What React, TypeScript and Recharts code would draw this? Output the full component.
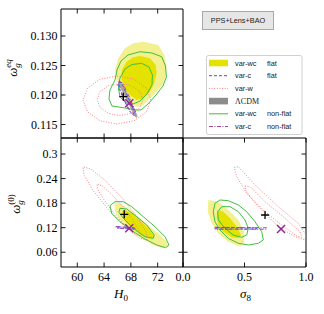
import React from 'react';
import { ScatterChart, Scatter, XAxis, YAxis } from 'recharts';

type P = [number, number];

// ---------------- axes ----------------
const H0_TICKS = [60, 64, 68, 72];
const H0_LABELS = ['60', '64', '68', '72'];
const WEQ_TICKS = [0.115, 0.12, 0.125, 0.13];
const WEQ_LABELS = ['0.115', '0.120', '0.125', '0.130'];
const W0_TICKS = [0.06, 0.12, 0.18, 0.24, 0.3];
const W0_LABELS = ['0.06', '0.12', '0.18', '0.24', '0.3'];
const S8_TICKS = [0, 0.5, 1];
const S8_LABELS = ['0.0', '0.5', '1.0'];
const H0_DOMAIN: P = [57.57, 75.78];
const WEQ_DOMAIN: P = [0.11271, 0.13458];
const W0_DOMAIN: P = [0.02395, 0.3392];
const S8_DOMAIN: P = [0, 1];

// ---------------- H0 vs omega_g^eq ----------------
const tlWcFlat95: P[] = [[69.85,0.12903],[72.09,0.12848],[72.99,0.12678],[73.34,0.1248],[73.19,0.1231],[72.69,0.1217],[71.85,0.12056],[70.85,0.11944],[69.85,0.11831],[68.91,0.11797],[67.57,0.11881],[66.63,0.12085],[65.88,0.12254],[65.63,0.12424],[66.12,0.12622],[67.12,0.12792],[68.36,0.12876]];
const tlWcFlat68: P[] = [[69.36,0.12661],[70.85,0.12622],[71.7,0.12509],[71.85,0.12368],[71.49,0.12198],[70.85,0.12056],[69.85,0.11944],[68.87,0.11915],[67.87,0.12],[67.12,0.12114],[66.63,0.12254],[66.63,0.12424],[67.37,0.12564],[68.36,0.12639]];
const tlWcNf95: P[] = [[69.36,0.12734],[71.15,0.12712],[72.6,0.12649],[73.16,0.12492],[73.31,0.12305],[72.79,0.12153],[71.75,0.12],[70.55,0.11847],[69.51,0.11746],[68.61,0.11746],[67.12,0.1178],[65.18,0.11814],[64.73,0.11932],[64.88,0.12085],[65.63,0.12254],[65.93,0.12424],[66.52,0.12576],[67.57,0.12678]];
const tlWcNf68: P[] = [[69.61,0.12537],[70.7,0.12475],[71.22,0.12339],[71.15,0.1217],[70.4,0.12017],[69.36,0.11898],[68.31,0.11847],[67.27,0.11864],[66.37,0.11966],[66.15,0.12119],[66.37,0.12288],[67.12,0.12441],[68.16,0.12517]];
const tlW95: P[] = [[71.0,0.11915],[70.31,0.12119],[68.46,0.12268],[65.93,0.12322],[63.39,0.12268],[61.54,0.12119],[60.85,0.11915],[61.54,0.11712],[63.39,0.11563],[65.93,0.11508],[68.46,0.11563],[70.31,0.11712]];
const tlW68: P[] = [[69.81,0.11924],[69.34,0.12059],[68.09,0.12159],[66.37,0.12195],[64.66,0.12159],[63.4,0.12059],[62.94,0.11924],[63.4,0.11788],[64.66,0.11688],[66.37,0.11653],[68.09,0.11688],[69.34,0.11788]];
const tlLcdm: P[] = [[66.3,0.1222],[66.72,0.12181],[67.96,0.11898],[69.0,0.11644],[68.84,0.1161],[68.43,0.11653],[67.48,0.1189],[66.22,0.1217]];
const tlCFlat: P[] = [[66.15,0.1222],[66.6,0.12212],[67.57,0.11966],[68.54,0.11712],[68.31,0.11669],[67.79,0.11729],[66.82,0.11949],[66.07,0.1217]];
const tlCNf: P[] = [[66.22,0.12237],[66.75,0.12203],[67.79,0.11966],[68.76,0.11695],[68.54,0.11644],[67.94,0.11712],[66.97,0.11932],[66.22,0.1217]];
const tlPlus: P[] = [[66.87,0.11971]];
const tlCross: P[] = [[67.76,0.11859]];

// ---------------- H0 vs omega_g^(0) ----------------
const blWcFlat95: P[] = [[65.52,0.18208],[66.37,0.17963],[67.61,0.16741],[69.1,0.14688],[70.85,0.12244],[72.34,0.10216],[73.34,0.08578],[73.58,0.07356],[72.84,0.06965],[71.34,0.07772],[69.61,0.09409],[67.87,0.11438],[66.37,0.13882],[65.63,0.1591]];
const blWcFlat68: P[] = [[66.87,0.16326],[68.12,0.15519],[69.61,0.13466],[70.85,0.11438],[71.49,0.098],[70.85,0.09238],[69.61,0.10045],[68.12,0.11853],[67.01,0.13882],[66.63,0.15519]];
const blWcNf95: P[] = [[64.88,0.17377],[65.63,0.18354],[66.87,0.18354],[68.12,0.17132],[69.85,0.14688],[71.6,0.12244],[73.09,0.098],[73.69,0.07772],[73.19,0.07112],[71.85,0.07772],[70.1,0.09238],[68.36,0.11022],[66.37,0.13466],[65.13,0.15519]];
const blWcNf68: P[] = [[66.37,0.16741],[67.37,0.1657],[68.87,0.14688],[70.36,0.1266],[71.49,0.10216],[71.34,0.09409],[70.1,0.098],[68.36,0.11853],[66.87,0.14297],[66.22,0.15764]];
const blW95: P[] = [[70.4,0.08994],[70.27,0.10925],[68.9,0.14713],[66.64,0.19357],[64.12,0.23633],[62.0,0.26371],[60.85,0.26835],[60.99,0.24905],[62.36,0.21116],[64.61,0.16473],[67.13,0.12196],[69.25,0.09458]];
const blW68: P[] = [[69.36,0.09971],[69.24,0.11255],[68.3,0.13882],[66.78,0.17181],[65.1,0.20236],[63.69,0.22253],[62.94,0.2268],[63.06,0.21397],[64.0,0.1877],[65.52,0.1547],[67.19,0.12415],[68.61,0.10399]];
const blCFlat: P[] = [[66.07,0.1222],[68.31,0.11976],[68.31,0.11682],[66.07,0.11927]];
const blCNf: P[] = [[65.78,0.12293],[68.61,0.11927],[68.61,0.1156],[65.78,0.11927]];
const blPlus: P[] = [[67.01,0.15275]];
const blCross: P[] = [[67.76,0.11853]];

// ---------------- sigma8 vs omega_g^(0) ----------------
const brWcFlat95: P[] = [[0.206,0.1877],[0.287,0.18354],[0.368,0.16326],[0.45,0.13882],[0.498,0.11022],[0.498,0.08187],[0.45,0.07527],[0.368,0.08578],[0.287,0.10631],[0.233,0.13075],[0.201,0.1591]];
const brWcFlat68: P[] = [[0.282,0.16326],[0.328,0.1591],[0.382,0.14297],[0.437,0.12244],[0.472,0.10216],[0.45,0.09409],[0.396,0.09654],[0.328,0.11022],[0.287,0.1266],[0.274,0.14688]];
const brWcNf95: P[] = [[0.301,0.1877],[0.368,0.18599],[0.45,0.17548],[0.518,0.1591],[0.585,0.13466],[0.64,0.11022],[0.653,0.08994],[0.612,0.08187],[0.531,0.07772],[0.45,0.08187],[0.368,0.09409],[0.301,0.11438],[0.26,0.13466],[0.246,0.1591],[0.26,0.17963]];
const brWcNf68: P[] = [[0.315,0.17132],[0.382,0.17132],[0.45,0.1591],[0.504,0.13882],[0.531,0.11853],[0.518,0.10216],[0.477,0.09654],[0.409,0.10216],[0.341,0.11853],[0.287,0.13882],[0.282,0.1591]];
const brW95: P[] = [[0.417,0.26762],[0.45,0.26908],[0.585,0.22436],[0.775,0.17132],[0.937,0.13075],[1.0,0.10216],[0.992,0.08994],[0.911,0.098],[0.775,0.12244],[0.64,0.16326],[0.518,0.20407],[0.437,0.24464]];
const brW68: P[] = [[0.504,0.22191],[0.545,0.2202],[0.667,0.18354],[0.815,0.14688],[0.951,0.11022],[0.965,0.09654],[0.924,0.09971],[0.802,0.1266],[0.667,0.1591],[0.545,0.19576],[0.51,0.21214]];
const brCFlat: P[] = [[0.274,0.12049],[0.599,0.11976],[0.599,0.11682],[0.274,0.11682]];
const brCNf: P[] = [[0.26,0.12098],[0.68,0.11976],[0.68,0.11633],[0.26,0.11633]];
const brPlus: P[] = [[0.667,0.15104]];
const brCross: P[] = [[0.797,0.11682]];

// ---------------- legend ----------------
const LEGEND_NAMES = ['var-wc', 'var-c', 'var-w', 'ΛCDM', 'var-wc', 'var-c'];
const LEGEND_QUAL = ['flat', 'flat', '', '', 'non-flat', 'non-flat'];
const TITLE = 'PPS+Lens+BAO';

// ---------------- styles ----------------
const PALE = '#f3f08f';
const BRIGHT = '#e3e200';
const GREEN = '#3fbf3f';
const RED = '#ff7f7f';
const BLUE = '#4b4bff';
const PURPLE = '#a345a3';
const GREY = '#8c8c8c';
const XMARK = '#8f2a8f';
const SERIF = "'Liberation Serif', 'DejaVu Serif', serif";
const SANS = "'Liberation Sans', Arial, sans-serif";
const TICK = 4.5;

const toXY = (a: P[]) => a.map(([x, y]) => ({ x, y }));
const noShape = () => <g />;
const plusShape = (p: any) => (
  <path d={`M${p.cx - 4},${p.cy}H${p.cx + 4}M${p.cx},${p.cy - 4}V${p.cy + 4}`} stroke="#000" strokeWidth={1.3} fill="none" />
);
const crossShape = (p: any) => (
  <path d={`M${p.cx - 4},${p.cy - 4}L${p.cx + 4},${p.cy + 4}M${p.cx - 4},${p.cy + 4}L${p.cx + 4},${p.cy - 4}`} stroke={XMARK} strokeWidth={1.5} fill="none" />
);

type Layer = { data: P[]; kind: 'fill' | 'line' | 'plus' | 'cross'; color?: string; dash?: string; width?: number; open?: boolean; opacity?: number };

const makeTick = (side: string, ticks: number[], labels: string[] | null) => (props: any) => {
  const { x, y, payload } = props;
  const i = ticks.findIndex((t) => Math.abs(t - payload.value) < 1e-9);
  const label = labels && i >= 0 ? labels[i] : null;
  let line;
  let text = null;
  if (side === 'bottom') {
    line = <line x1={x} x2={x} y1={y} y2={y - TICK} stroke="#000" strokeWidth={0.9} />;
    if (label) text = <text x={x} y={y + 14} textAnchor="middle" fontFamily={SERIF} fontSize={12} fill="#000">{label}</text>;
  } else if (side === 'top') {
    line = <line x1={x} x2={x} y1={y} y2={y + TICK} stroke="#000" strokeWidth={0.9} />;
  } else if (side === 'left') {
    line = <line x1={x} x2={x + TICK} y1={y} y2={y} stroke="#000" strokeWidth={0.9} />;
    if (label) text = <text x={x - 3.5} y={y + 4.2} textAnchor="end" fontFamily={SERIF} fontSize={12} fill="#000">{label}</text>;
  } else {
    line = <line x1={x} x2={x - TICK} y1={y} y2={y} stroke="#000" strokeWidth={0.9} />;
  }
  return <g>{line}{text}</g>;
};

const W = 324;
const H = 314;

function Panel(props: {
  rect: [number, number, number, number];
  xDomain: P; yDomain: P; xTicks: number[]; yTicks: number[];
  xLabels: string[] | null; yLabels: string[] | null; layers: Layer[];
}) {
  const { rect, xDomain, yDomain, xTicks, yTicks, xLabels, yLabels, layers } = props;
  const [x0, y0, x1, y1] = rect;
  const axisCommon = { type: 'number' as const, allowDataOverflow: true, tickSize: 0, tickMargin: 0, interval: 0 as const, axisLine: { stroke: '#000', strokeWidth: 1 }, tickLine: false };
  return (
    <div style={{ position: 'absolute', left: 0, top: 0 }}>
      <ScatterChart width={W} height={H} margin={{ left: x0 - 1, top: y0 - 1, right: W - x1 - 1, bottom: H - y1 - 1 }}>
        <XAxis xAxisId="b" orientation="bottom" dataKey="x" domain={xDomain} ticks={xTicks} height={1} tick={makeTick('bottom', xTicks, xLabels)} {...axisCommon} />
        <XAxis xAxisId="t" orientation="top" dataKey="x" domain={xDomain} ticks={xTicks} height={1} tick={makeTick('top', xTicks, null)} {...axisCommon} />
        <YAxis yAxisId="l" orientation="left" dataKey="y" domain={yDomain} ticks={yTicks} width={1} tick={makeTick('left', yTicks, yLabels)} {...axisCommon} />
        <YAxis yAxisId="r" orientation="right" dataKey="y" domain={yDomain} ticks={yTicks} width={1} tick={makeTick('right', yTicks, null)} {...axisCommon} />
        <Scatter xAxisId="t" yAxisId="r" data={toXY([[xDomain[0] + (xDomain[1] - xDomain[0]) / 2, yDomain[0] + (yDomain[1] - yDomain[0]) / 2]])} shape={noShape} isAnimationActive={false} />
        {layers.map((l, i) => {
          if (l.kind === 'plus' || l.kind === 'cross') {
            return <Scatter key={i} xAxisId="b" yAxisId="l" data={toXY(l.data)} shape={l.kind === 'plus' ? plusShape : crossShape} isAnimationActive={false} />;
          }
          const style = l.kind === 'fill'
            ? { fill: l.color, stroke: 'none', fillOpacity: l.opacity ?? 1 }
            : { fill: 'none', stroke: l.color, strokeWidth: l.width ?? 1, strokeDasharray: l.dash };
          return (
            <Scatter key={i} xAxisId="b" yAxisId="l" data={toXY(l.data)} shape={noShape} isAnimationActive={false}
              line={style} lineType="joint" lineJointType={l.open ? 'linear' : 'linearClosed'} />
          );
        })}
      </ScatterChart>
    </div>
  );
}

const DOT = '1 1.6';
const DASH = '3 2';
const DASHDOT = '4 1.5 1 1.5';

export default function App() {
  const tl: Layer[] = [
    { data: tlWcFlat95, kind: 'fill', color: PALE },
    { data: tlWcFlat68, kind: 'fill', color: BRIGHT },
    { data: tlLcdm, kind: 'fill', color: GREY, opacity: 0.75 },
    { data: tlW95, kind: 'line', color: RED, dash: DOT },
    { data: tlW68, kind: 'line', color: RED, dash: DOT },
    { data: tlWcNf95, kind: 'line', color: GREEN },
    { data: tlWcNf68, kind: 'line', color: GREEN },
    { data: tlCFlat, kind: 'line', color: BLUE, dash: DASH },
    { data: tlCNf, kind: 'line', color: PURPLE, dash: DASHDOT },
    { data: tlPlus, kind: 'plus' },
    { data: tlCross, kind: 'cross' },
  ];
  const bl: Layer[] = [
    { data: blWcFlat95, kind: 'fill', color: PALE },
    { data: blWcFlat68, kind: 'fill', color: BRIGHT },
    { data: blW95, kind: 'line', color: RED, dash: DOT },
    { data: blW68, kind: 'line', color: RED, dash: DOT },
    { data: blWcNf95, kind: 'line', color: GREEN },
    { data: blWcNf68, kind: 'line', color: GREEN },
    { data: blCFlat, kind: 'line', color: BLUE, dash: DASH },
    { data: blCNf, kind: 'line', color: PURPLE, dash: DASHDOT },
    { data: blPlus, kind: 'plus' },
    { data: blCross, kind: 'cross' },
  ];
  const br: Layer[] = [
    { data: brWcFlat95, kind: 'fill', color: PALE },
    { data: brWcFlat68, kind: 'fill', color: BRIGHT },
    { data: brW95, kind: 'line', color: RED, dash: DOT },
    { data: brW68, kind: 'line', color: RED, dash: DOT },
    { data: brWcNf95, kind: 'line', color: GREEN },
    { data: brWcNf68, kind: 'line', color: GREEN },
    { data: brCFlat, kind: 'line', color: BLUE, dash: DASH },
    { data: brCNf, kind: 'line', color: PURPLE, dash: DASHDOT },
    { data: brPlus, kind: 'plus' },
    { data: brCross, kind: 'cross' },
  ];

  const rowY = [63, 75.7, 88.4, 101.1, 113.8, 126.5];

  return (
    <div style={{ position: 'absolute', left: 0, top: 0, width: W, height: H, background: '#fff' }}>
      <Panel rect={[61, 9, 183, 138]} xDomain={H0_DOMAIN} yDomain={WEQ_DOMAIN} xTicks={H0_TICKS} yTicks={WEQ_TICKS} xLabels={null} yLabels={WEQ_LABELS} layers={tl} />
      <Panel rect={[61, 138, 183, 267]} xDomain={H0_DOMAIN} yDomain={W0_DOMAIN} xTicks={H0_TICKS} yTicks={W0_TICKS} xLabels={H0_LABELS} yLabels={W0_LABELS} layers={bl} />
      <Panel rect={[183, 138, 306, 267]} xDomain={S8_DOMAIN} yDomain={W0_DOMAIN} xTicks={S8_TICKS} yTicks={W0_TICKS} xLabels={S8_LABELS} yLabels={null} layers={br} />
      <svg width={W} height={H} style={{ position: 'absolute', left: 0, top: 0 }}>
        <text transform="translate(17,68) rotate(-90)" textAnchor="middle" fontFamily={SERIF} fontSize={13} fill="#000">
          <tspan fontStyle="italic">ω</tspan>
          <tspan fontStyle="italic" fontSize={9} dy={3}>g</tspan>
          <tspan fontStyle="italic" fontSize={9} dx={-4.5} dy={-9.5}>eq</tspan>
        </text>
        <text transform="translate(20,204) rotate(-90)" textAnchor="middle" fontFamily={SERIF} fontSize={13} fill="#000">
          <tspan fontStyle="italic">ω</tspan>
          <tspan fontStyle="italic" fontSize={9} dy={3}>g</tspan>
          <tspan fontSize={9} dx={-4.5} dy={-9.5}>(0)</tspan>
        </text>
        <text x={121} y={298} textAnchor="middle" fontFamily={SERIF} fontSize={13} fill="#000">
          <tspan fontStyle="italic">H</tspan>
          <tspan fontSize={9} dy={2.5}>0</tspan>
        </text>
        <text x={245.5} y={298} textAnchor="middle" fontFamily={SERIF} fontSize={13} fill="#000">
          <tspan fontStyle="italic">σ</tspan>
          <tspan fontSize={9} dy={2.5}>8</tspan>
        </text>
        <rect x={202.5} y={11.5} width={71} height={18} fill="#e6e6e6" stroke="#a8a8a8" strokeWidth={1} />
        <text x={238} y={23.3} textAnchor="middle" fontFamily={SANS} fontSize={7.3} fill="#222">{TITLE}</text>
        <rect x={206.5} y={55.5} width={95.5} height={79} rx={2} fill="#fff" stroke="#d0d0d0" strokeWidth={1} />
        <rect x={209} y={rowY[0] - 3.3} width={19} height={6.6} fill={BRIGHT} />
        <line x1={209} x2={228} y1={rowY[1]} y2={rowY[1]} stroke={BLUE} strokeWidth={1} strokeDasharray={DASH} />
        <line x1={209} x2={228} y1={rowY[2]} y2={rowY[2]} stroke={RED} strokeWidth={1} strokeDasharray={DOT} />
        <rect x={209} y={rowY[3] - 3.3} width={19} height={6.6} fill={GREY} />
        <line x1={209} x2={228} y1={rowY[4]} y2={rowY[4]} stroke={GREEN} strokeWidth={1} />
        <line x1={209} x2={228} y1={rowY[5]} y2={rowY[5]} stroke={PURPLE} strokeWidth={1} strokeDasharray={DASHDOT} />
        {LEGEND_NAMES.map((n, i) => (
          <text key={'n' + i} x={235} y={rowY[i] + 2.6} fontFamily={n === 'ΛCDM' ? SERIF : SANS} fontSize={n === 'ΛCDM' ? 8 : 7.3} fill="#222">{n}</text>
        ))}
        {LEGEND_QUAL.map((q, i) => (
          <text key={'q' + i} x={267} y={rowY[i] + 2.6} fontFamily={SANS} fontSize={7.3} fill="#222">{q}</text>
        ))}
      </svg>
    </div>
  );
}
